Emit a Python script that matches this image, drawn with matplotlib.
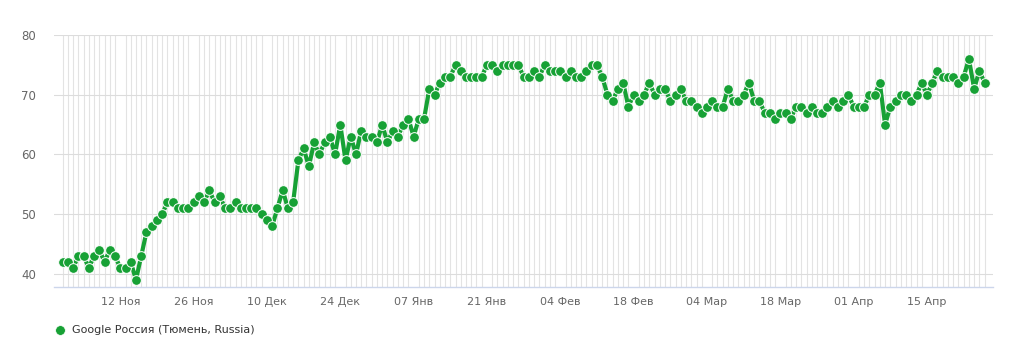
import matplotlib
matplotlib.use("Agg")
import matplotlib.pyplot as plt
from matplotlib.lines import Line2D
import numpy as np
import pandas as pd

# daily values, 01 Nov - 26 Apr
nov_values = [42, 42, 41, 43, 43, 41, 43, 44, 42, 44, 43, 41, 41, 42, 39,
              43, 47, 48, 49, 50, 52, 52, 51, 51, 51, 52, 53, 52, 54, 52]
dec_values = [53, 51, 51, 52, 51, 51, 51, 51, 50, 49, 48, 51, 54, 51, 52, 59,
              61, 58, 62, 60, 62, 63, 60, 65, 59, 63, 60, 64, 63, 63, 62]
jan_values = [65, 62, 64, 63, 65, 66, 63, 66, 66, 71, 70, 72, 73, 73, 75, 74,
              73, 73, 73, 73, 75, 75, 74, 75, 75, 75, 75, 73, 73, 74, 73]
feb_values = [75, 74, 74, 74, 73, 74, 73, 73, 74, 75, 75, 73, 70, 69, 71, 72,
              68, 70, 69, 70, 72, 70, 71, 71, 69, 70, 71, 69]
mar_values = [69, 68, 67, 68, 69, 68, 68, 71, 69, 69, 70, 72, 69, 69, 67, 67,
              66, 67, 67, 66, 68, 68, 67, 68, 67, 67, 68, 69, 68, 69, 70]
apr_values = [68, 68, 68, 70, 70, 72, 65, 68, 69, 70, 70, 69, 70, 72, 70, 72,
              74, 73, 73, 73, 72, 73, 76, 71, 74, 72]

values = nov_values + dec_values + jan_values + feb_values + mar_values + apr_values
dates = pd.date_range("2018-11-01", periods=len(values), freq="D")

tick_dates = pd.date_range("2018-11-12", "2019-04-15", freq="14D")
tick_labels = ["12 Ноя", "26 Ноя", "10 Дек", "24 Дек", "07 Янв", "21 Янв",
               "04 Фев", "18 Фев", "04 Мар", "18 Мар", "01 Апр", "15 Апр"]
series_name = "Google Россия (Тюмень, Russia)"

green = "#17a135"

fig = plt.figure(figsize=(10.22, 3.55), dpi=100)
ax = fig.add_axes([54 / 1022, 1 - 287 / 355, 939 / 1022, 252 / 355])

ax.plot(dates, values, color=green, lw=3.0, marker="o", ms=7,
        mfc=green, mec="white", mew=0.7, zorder=3, solid_joinstyle="round")

ax.set_xlim(dates[0] - pd.Timedelta(days=1.65), dates[-1] + pd.Timedelta(days=1.6))
ax.set_ylim(37.8, 80)

ax.set_yticks([40, 50, 60, 70, 80])
ax.set_xticks(tick_dates)
ax.set_xticklabels(tick_labels)
ax.set_xticks(dates, minor=True)

ax.grid(True, axis="y", which="major", color="#dcdcdc", lw=0.8)
ax.grid(True, axis="x", which="minor", color="#e3e3e3", lw=0.8)
ax.set_axisbelow(True)

for s in ["top", "right", "left"]:
    ax.spines[s].set_visible(False)
ax.spines["bottom"].set_color("#ccd6eb")
ax.spines["bottom"].set_linewidth(1.0)

ax.tick_params(axis="y", length=0, pad=13, labelsize=8.5, labelcolor="#666666")
ax.tick_params(axis="x", which="major", length=0, pad=7, labelsize=8, labelcolor="#666666")
ax.tick_params(axis="x", which="minor", length=0)

# legend below the chart
fig.add_artist(Line2D([60 / 1022], [1 - 330 / 355], transform=fig.transFigure,
                      marker="o", ms=7, color=green, mec="white", mew=0.5))
fig.text(72 / 1022, 1 - 330 / 355, series_name, fontsize=8, color="#333333",
         va="center", ha="left")

fig.savefig("out.png", dpi=100)
